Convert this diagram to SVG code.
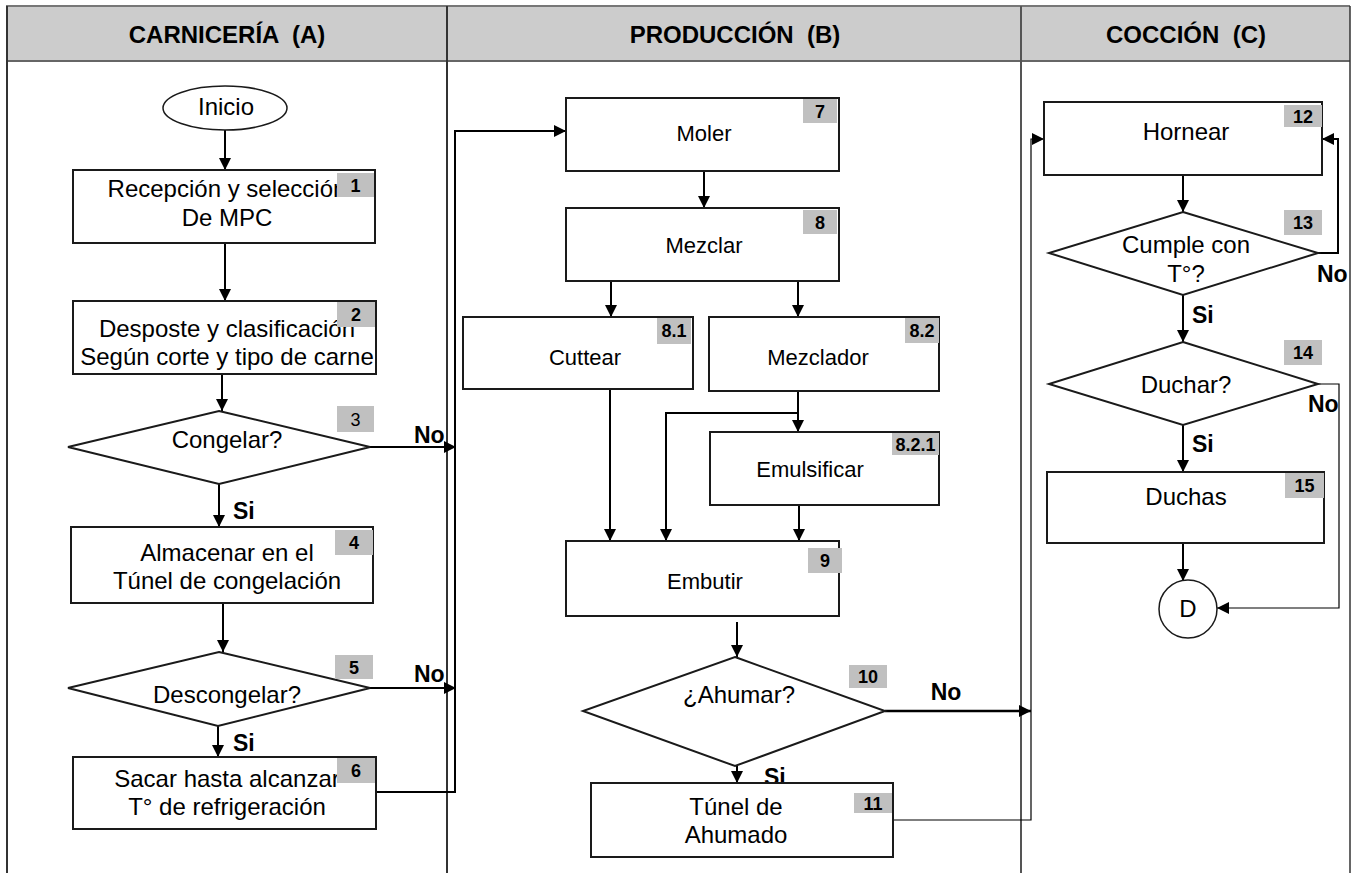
<svg xmlns="http://www.w3.org/2000/svg" width="1351" height="873" viewBox="0 0 1351 873">
<style>
.box{fill:#fff;stroke:#1a1a1a;stroke-width:2}
.badge{fill:#c0c0c0}
.t{font-family:"Liberation Sans",Arial,sans-serif;font-size:24px;fill:#000;text-anchor:middle}
.s22{font-size:22px}
.n{font-family:"Liberation Sans",Arial,sans-serif;font-size:18px;font-weight:bold;fill:#000;text-anchor:middle}
.nr{font-weight:normal}
.lbl{font-family:"Liberation Sans",Arial,sans-serif;font-size:23px;font-weight:bold;fill:#000}
.h{font-family:"Liberation Sans",Arial,sans-serif;font-size:24px;font-weight:bold;fill:#000;text-anchor:middle;white-space:pre}
.c{fill:none;stroke:#000;stroke-width:2}
.thin{stroke-width:1.2}
.thick{stroke-width:2.5}
</style>
<defs>
<marker id="ah" markerUnits="userSpaceOnUse" markerWidth="13" markerHeight="12" refX="12" refY="6" orient="auto">
<path d="M0,0 L12,6 L0,12 z" fill="#000"/>
</marker>
</defs>

<g id="frame">
<rect x="6" y="6" width="1344" height="55" fill="#cccccc"/>
<line x1="6" y1="6" x2="1350" y2="6" stroke="#777" stroke-width="2"/>
<line x1="6" y1="61" x2="1350" y2="61" stroke="#666" stroke-width="2"/>
<line x1="7" y1="6" x2="7" y2="873" stroke="#333" stroke-width="2"/>
<line x1="447" y1="6" x2="447" y2="873" stroke="#333" stroke-width="2"/>
<line x1="1021" y1="6" x2="1021" y2="873" stroke="#555" stroke-width="2"/>
<line x1="1350" y1="6" x2="1350" y2="873" stroke="#333" stroke-width="1.5"/>
<text class="h" x="227" y="43">CARNICERÍA  (A)</text>
<text class="h" x="735" y="43">PRODUCCIÓN  (B)</text>
<text class="h" x="1186" y="43">COCCIÓN  (C)</text>
</g>

<g id="connectors">
<path class="c" d="M225,130 V170" marker-end="url(#ah)"/>
<path class="c" d="M225,243 V301" marker-end="url(#ah)"/>
<path class="c" d="M222,374 V411" marker-end="url(#ah)"/>
<path class="c" d="M370,447 H456" marker-end="url(#ah)"/>
<path class="c" d="M219,484 V527" marker-end="url(#ah)"/>
<path class="c" d="M223,603 V652" marker-end="url(#ah)"/>
<path class="c" d="M370,688 H456" marker-end="url(#ah)"/>
<path class="c" d="M218,726 V757" marker-end="url(#ah)"/>
<path class="c" d="M376,792 H455 V131 H566" marker-end="url(#ah)"/>
<path class="c" d="M704,171 V208" marker-end="url(#ah)"/>
<path class="c" d="M611,281 V317" marker-end="url(#ah)"/>
<path class="c" d="M798,281 V317" marker-end="url(#ah)"/>
<path class="c" d="M798,391 V432" marker-end="url(#ah)"/>
<path class="c" d="M798,413 H666 V541" marker-end="url(#ah)"/>
<path class="c" d="M610,389 V541" marker-end="url(#ah)"/>
<path class="c" d="M799,505 V541" marker-end="url(#ah)"/>
<path class="c" d="M737,622 V657" marker-end="url(#ah)"/>
<path class="c thick" d="M885,711 H1031" marker-end="url(#ah)"/>
<path class="c" d="M737,766 V783" marker-end="url(#ah)"/>
<path class="c thin" d="M893,820 H1031 V139 H1044" marker-end="url(#ah)"/>
<path class="c" d="M1183,175 V212" marker-end="url(#ah)"/>
<path class="c" d="M1318,253 H1338 V139 H1322" marker-end="url(#ah)"/>
<path class="c" d="M1183,295 V342" marker-end="url(#ah)"/>
<path class="c thin" d="M1318,384 H1339 V608 H1217" marker-end="url(#ah)"/>
<path class="c" d="M1183,425 V472" marker-end="url(#ah)"/>
<path class="c" d="M1183,543 V581" marker-end="url(#ah)"/>
<text class="lbl" x="414" y="443">No</text>
<text class="lbl" x="233" y="519">Si</text>
<text class="lbl" x="414" y="682">No</text>
<text class="lbl" x="233" y="751">Si</text>
<text class="lbl" x="946" y="700" text-anchor="middle">No</text>
<text class="lbl" x="764" y="785">Si</text>
<text class="lbl" x="1317" y="282">No</text>
<text class="lbl" x="1192" y="323">Si</text>
<text class="lbl" x="1308" y="412">No</text>
<text class="lbl" x="1192" y="452">Si</text>
</g>

<g id="inicio">
<ellipse cx="225" cy="108" rx="62" ry="22" fill="#fff" stroke="#1a1a1a" stroke-width="1.5"/>
<text class="t" x="226" y="115">Inicio</text>
</g>

<g id="n1">
<rect class="box" x="73" y="170" width="302" height="73"/>
<text class="t" x="227" y="197">Recepción y selección</text>
<text class="t" x="227" y="226">De MPC</text>
<rect class="badge" x="337" y="173" width="37" height="24"/>
<text class="n" x="355.5" y="192">1</text>
</g>

<g id="n2">
<rect class="box" x="73" y="301" width="303" height="73"/>
<text class="t" x="227" y="337">Desposte y clasificación</text>
<text class="t" x="227" y="365">Según corte y tipo de carne</text>
<rect class="badge" x="337" y="302" width="38" height="25"/>
<text class="n" x="356" y="321">2</text>
</g>

<g id="n3">
<polygon points="219,411 370,447 219,484 68,447" fill="#fff" stroke="#1a1a1a" stroke-width="2"/>
<text class="t" x="227" y="448">Congelar?</text>
<rect class="badge" x="337" y="406" width="37" height="26"/>
<text class="n nr" x="355.5" y="426">3</text>
</g>

<g id="n4">
<rect class="box" x="71" y="527" width="302" height="76"/>
<text class="t" x="227" y="561">Almacenar en el</text>
<text class="t" x="227" y="589">Túnel de congelación</text>
<rect class="badge" x="335" y="530" width="38" height="25"/>
<text class="n" x="354" y="549">4</text>
</g>

<g id="n5">
<polygon points="219,652 370,688 218,726 68,688" fill="#fff" stroke="#1a1a1a" stroke-width="2"/>
<text class="t" x="227" y="703">Descongelar?</text>
<rect class="badge" x="335" y="655" width="38" height="24"/>
<text class="n" x="354" y="674">5</text>
</g>

<g id="n6">
<rect class="box" x="73" y="757" width="303" height="72"/>
<text class="t" x="227" y="787">Sacar hasta alcanzar</text>
<text class="t" x="227" y="815">T° de refrigeración</text>
<rect class="badge" x="337" y="758" width="38" height="25"/>
<text class="n" x="356" y="777">6</text>
</g>

<g id="n7">
<rect class="box" x="566" y="98" width="273" height="73"/>
<text class="t s22" x="704" y="141">Moler</text>
<rect class="badge" x="803" y="99" width="34" height="24"/>
<text class="n" x="820" y="118">7</text>
</g>

<g id="n8">
<rect class="box" x="566" y="208" width="273" height="73"/>
<text class="t s22" x="704" y="253">Mezclar</text>
<rect class="badge" x="803" y="210" width="34" height="24"/>
<text class="n" x="820" y="229">8</text>
</g>

<g id="n8-1">
<rect class="box" x="463" y="317" width="230" height="72"/>
<text class="t s22" x="585" y="365">Cuttear</text>
<rect class="badge" x="657" y="318" width="34" height="26"/>
<text class="n" x="674" y="337">8.1</text>
</g>

<g id="n8-2">
<rect class="box" x="709" y="317" width="230" height="74"/>
<text class="t s22" x="818" y="365">Mezclador</text>
<rect class="badge" x="905" y="318" width="34" height="25"/>
<text class="n" x="922" y="337">8.2</text>
</g>

<g id="n8-2-1">
<rect class="box" x="710" y="432" width="229" height="73"/>
<text class="t s22" x="810" y="477">Emulsificar</text>
<rect class="badge" x="892" y="433" width="47" height="22"/>
<text class="n" x="915.5" y="451">8.2.1</text>
</g>

<g id="n9">
<rect class="box" x="566" y="541" width="273" height="75"/>
<text class="t s22" x="705" y="589">Embutir</text>
<rect class="badge" x="808" y="548" width="34" height="25"/>
<text class="n" x="825" y="567">9</text>
</g>

<g id="n10">
<polygon points="735,657 885,711 735,766 583,711" fill="#fff" stroke="#1a1a1a" stroke-width="2"/>
<text class="t" x="739" y="703">¿Ahumar?</text>
<rect class="badge" x="849" y="665" width="38" height="23"/>
<text class="n" x="868" y="683">10</text>
</g>

<g id="n11">
<rect class="box" x="591" y="783" width="302" height="74"/>
<text class="t" x="736" y="815">Túnel de</text>
<text class="t" x="736" y="843">Ahumado</text>
<rect class="badge" x="854" y="793" width="38" height="20"/>
<text class="n" x="873" y="810">11</text>
</g>

<g id="n12">
<rect class="box" x="1044" y="102" width="278" height="73"/>
<text class="t" x="1186" y="140">Hornear</text>
<rect class="badge" x="1284" y="105" width="38" height="22"/>
<text class="n" x="1303" y="123">12</text>
</g>

<g id="n13">
<polygon points="1183,212 1318,253 1183,295 1049,253" fill="#fff" stroke="#1a1a1a" stroke-width="2"/>
<text class="t" x="1186" y="253">Cumple con</text>
<text class="t" x="1186" y="282">T°?</text>
<rect class="badge" x="1284" y="210" width="38" height="25"/>
<text class="n" x="1303" y="229">13</text>
</g>

<g id="n14">
<polygon points="1183,342 1318,384 1183,425 1049,384" fill="#fff" stroke="#1a1a1a" stroke-width="2"/>
<text class="t" x="1186" y="393">Duchar?</text>
<rect class="badge" x="1284" y="340" width="38" height="25"/>
<text class="n" x="1303" y="359">14</text>
</g>

<g id="n15">
<rect class="box" x="1047" y="472" width="277" height="71"/>
<text class="t" x="1186" y="505">Duchas</text>
<rect class="badge" x="1285" y="473" width="39" height="25"/>
<text class="n" x="1304.5" y="492">15</text>
</g>

<g id="nD">
<circle cx="1188" cy="609" r="29" fill="#fff" stroke="#1a1a1a" stroke-width="1.5"/>
<text class="t" x="1188" y="617">D</text>
</g>
</svg>
